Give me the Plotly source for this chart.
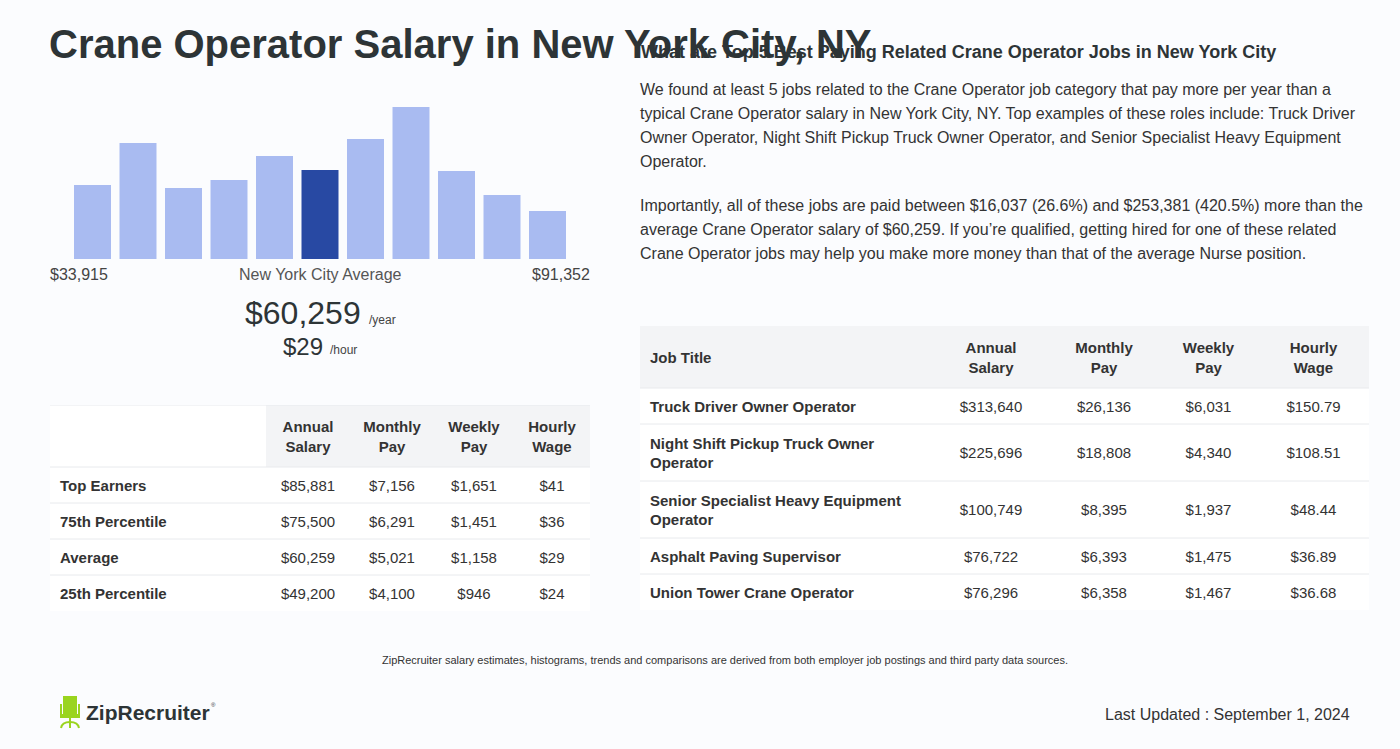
import plotly.graph_objects as go

W, H = 1400, 749
BG = "#fbfcfe"
DARK = "#2d3436"
TXT = "#333333"
FONT = "Liberation Sans, Arial, sans-serif"

# ---------------- data ----------------
hist_counts = [74, 116, 71, 79, 103, 89, 120, 152, 88, 64, 48]
hist_highlight = 5
range_low = "$33,915"
range_high = "$91,352"
avg_year = "$60,259"
avg_hour = "$29"

pct_labels = ["Top Earners", "75th Percentile", "Average", "25th Percentile"]
pct_annual = ["$85,881", "$75,500", "$60,259", "$49,200"]
pct_monthly = ["$7,156", "$6,291", "$5,021", "$4,100"]
pct_weekly = ["$1,651", "$1,451", "$1,158", "$946"]
pct_hourly = ["$41", "$36", "$29", "$24"]

job_titles = ["Truck Driver Owner Operator",
              "Night Shift Pickup Truck Owner<br>Operator",
              "Senior Specialist Heavy Equipment<br>Operator",
              "Asphalt Paving Supervisor",
              "Union Tower Crane Operator"]
job_annual = ["$313,640", "$225,696", "$100,749", "$76,722", "$76,296"]
job_monthly = ["$26,136", "$18,808", "$8,395", "$6,393", "$6,358"]
job_weekly = ["$6,031", "$4,340", "$1,937", "$1,475", "$1,467"]
job_hourly = ["$150.79", "$108.51", "$48.44", "$36.89", "$36.68"]

col_headers = ["Annual<br>Salary", "Monthly<br>Pay", "Weekly<br>Pay", "Hourly<br>Wage"]

title = "Crane Operator Salary in New York City, NY"
heading = "What are Top 5 Best Paying Related Crane Operator Jobs in New York City"
para1 = ["We found at least 5 jobs related to the Crane Operator job category that pay more per year than a",
         "typical Crane Operator salary in New York City, NY. Top examples of these roles include: Truck Driver",
         "Owner Operator, Night Shift Pickup Truck Owner Operator, and Senior Specialist Heavy Equipment",
         "Operator."]
para2 = ["Importantly, all of these jobs are paid between $16,037 (26.6%) and $253,381 (420.5%) more than the",
         "average Crane Operator salary of $60,259. If you\u2019re qualified, getting hired for one of these related",
         "Crane Operator jobs may help you make more money than that of the average Nurse position."]
footer = "ZipRecruiter salary estimates, histograms, trends and comparisons are derived from both employer job postings and third party data sources."
updated = "Last Updated : September 1, 2024"


def px(x):
    return x / W


def py(y):
    return 1 - y / H


fig = go.Figure()
shapes = []
layout_axes = {}

# ---------------- histogram ----------------
fig.add_trace(go.Bar(
    x=list(range(len(hist_counts))), y=hist_counts,
    marker=dict(color=["#2849a3" if i == hist_highlight else "#a9bbf1" for i in range(len(hist_counts))],
                line=dict(width=0)),
    hoverinfo="skip", showlegend=False,
))

# ---------------- tables (drawn on their own hidden axes) ----------------
HDR_GREY = "#f3f4f6"
SEP = "#e8eaed"
TEXT_SHIFT = 2  # small downward nudge of cell text


def add_table(n, left, top, colw, header, columns, first_header_white, top_line):
    xa, ya = "x%d" % n, "y%d" % n
    header_h = 62
    row_h = [57 if "<br>" in str(c) else 36 for c in columns[0]]
    total_w = sum(colw)
    total_h = header_h + sum(row_h)
    layout_axes["xaxis%d" % n] = dict(domain=[px(left), px(left + total_w)], range=[0, total_w],
                                       visible=False, fixedrange=True, anchor=ya)
    layout_axes["yaxis%d" % n] = dict(domain=[py(top + total_h), py(top)], range=[total_h, 0],
                                       visible=False, fixedrange=True, anchor=xa)
    col_x0 = [sum(colw[:i]) for i in range(len(colw))]
    for i, (x0, w) in enumerate(zip(col_x0, colw)):
        fill = "#ffffff" if (i == 0 and first_header_white) else HDR_GREY
        shapes.append(dict(type="rect", xref=xa, yref=ya, x0=x0, x1=x0 + w, y0=0, y1=header_h,
                           fillcolor=fill, line=dict(width=0), layer="below"))
    shapes.append(dict(type="rect", xref=xa, yref=ya, x0=0, x1=total_w, y0=header_h, y1=total_h,
                       fillcolor="#ffffff", line=dict(width=0), layer="below"))
    row_tops = [header_h + sum(row_h[:i]) for i in range(len(row_h))]
    lines = ([0] if top_line else []) + row_tops
    for yv in lines:
        shapes.append(dict(type="line", xref=xa, yref=ya, x0=0, x1=total_w, y0=yv, y1=yv,
                           line=dict(color=SEP, width=1), layer="below"))
    row_mid = [t + h / 2 + TEXT_SHIFT for t, h in zip(row_tops, row_h)]
    for i, (x0, w) in enumerate(zip(col_x0, colw)):
        left_col = i == 0
        xpos = x0 + 10 if left_col else x0 + w / 2
        tpos = "middle right" if left_col else "middle center"
        if header[i]:
            fig.add_trace(go.Scatter(x=[xpos], y=[header_h / 2 + TEXT_SHIFT], mode="text",
                                     text=["<b>%s</b>" % header[i]],
                                     textposition=tpos, xaxis=xa, yaxis=ya, hoverinfo="skip",
                                     showlegend=False, cliponaxis=False,
                                     textfont=dict(family=FONT, size=15, color=TXT)))
        vals = columns[i]
        txt = ["<b>%s</b>" % v for v in vals] if left_col else list(vals)
        fig.add_trace(go.Scatter(x=[xpos] * len(vals), y=row_mid, mode="text", text=txt,
                                 textposition=tpos, xaxis=xa, yaxis=ya, hoverinfo="skip",
                                 showlegend=False, cliponaxis=False,
                                 textfont=dict(family=FONT, size=15, color=TXT)))


add_table(2, 50, 405, [216, 84, 84, 80, 76], [""] + col_headers,
          [pct_labels, pct_annual, pct_monthly, pct_weekly, pct_hourly],
          first_header_white=True, top_line=True)
add_table(3, 640, 326, [293, 116, 110, 99, 111], ["Job Title"] + col_headers,
          [job_titles, job_annual, job_monthly, job_weekly, job_hourly],
          first_header_white=False, top_line=False)

# ZipRecruiter chair logo
G = "#9ad41f"
shapes += [
    dict(type="rect", xref="paper", yref="paper", x0=px(63), x1=px(77), y0=py(714), y1=py(696),
         fillcolor=G, line=dict(width=0)),
    dict(type="rect", xref="paper", yref="paper", x0=px(60), x1=px(62), y0=py(716), y1=py(704),
         fillcolor=G, line=dict(width=0)),
    dict(type="rect", xref="paper", yref="paper", x0=px(78), x1=px(80), y0=py(716), y1=py(704),
         fillcolor=G, line=dict(width=0)),
    dict(type="rect", xref="paper", yref="paper", x0=px(60), x1=px(80), y0=py(718), y1=py(714),
         fillcolor=G, line=dict(width=0)),
    dict(type="rect", xref="paper", yref="paper", x0=px(69), x1=px(71), y0=py(728), y1=py(718),
         fillcolor=G, line=dict(width=0)),
    dict(type="path", xref="paper", yref="paper",
         path="M %f,%f Q %f,%f %f,%f Q %f,%f %f,%f" % (px(61), py(728), px(62), py(722), px(70), py(722),
                                                     px(78), py(722), px(79), py(728)),
         line=dict(color=G, width=2)),
]

# ---------------- text ----------------
ann = []


def text(x, y, s, size=16, color=TXT, xanchor="left", bold=False, yanchor="middle"):
    ann.append(dict(x=px(x), y=py(y), xref="paper", yref="paper", text=("<b>%s</b>" % s) if bold else s,
                    showarrow=False, xanchor=xanchor, yanchor=yanchor,
                    font=dict(family=FONT, size=size, color=color), borderpad=0))


text(640, 52, heading, size=18, color=DARK, bold=True)
text(48, 44, title, size=40, color=DARK, bold=True)
for i, l in enumerate(para1):
    text(639, 89.5 + 24 * i, l, size=16, color=TXT)
for i, l in enumerate(para2):
    text(639, 205.5 + 24 * i, l, size=16, color=TXT)

text(49, 275, range_low, size=16, color="#444444")
text(591, 275, range_high, size=16, color="#444444", xanchor="right")
text(320, 275, "New York City Average", size=16, color="#555555", xanchor="center")
text(362, 313, avg_year, size=32, color=DARK, xanchor="right")
text(368, 320, "/year", size=12, color="#444444")
text(324, 346, avg_hour, size=24, color=DARK, xanchor="right")
text(329, 350, "/hour", size=12, color="#444444")

text(725, 660, footer, size=11, color=TXT, xanchor="center")
text(1351, 714, updated, size=16, color=TXT, xanchor="right")
text(85, 712, "ZipRecruiter", size=21, color=DARK, bold=True)
text(210, 705, "\u00ae", size=6, color=DARK)

fig.update_layout(
    width=W, height=H, margin=dict(l=0, r=0, t=0, b=0),
    paper_bgcolor=BG, plot_bgcolor="rgba(0,0,0,0)",
    bargap=0.187,
    xaxis=dict(domain=[px(69.75), px(570.25)], range=[-0.5, 10.5], visible=False, fixedrange=True),
    yaxis=dict(domain=[py(259), py(107)], range=[0, max(hist_counts)], visible=False, fixedrange=True),
    shapes=shapes, annotations=ann, showlegend=False,
    font=dict(family=FONT),
    **layout_axes,
)

fig.write_html("out.html", config={"displayModeBar": False, "staticPlot": True},
               post_script="document.body.style.margin='0';document.body.style.background='%s';" % BG)
